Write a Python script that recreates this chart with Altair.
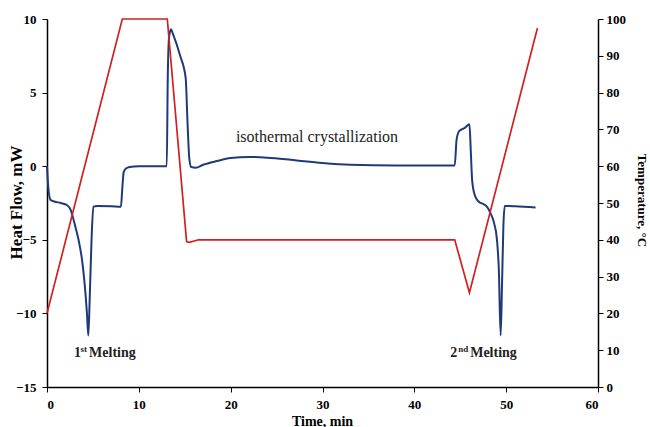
import altair as alt
import pandas as pd

# Heat flow curve (left axis)
hf_time = [0, 0.15, 0.4, 0.8, 1.5, 2.2, 2.6, 3.0, 3.4, 3.8, 4.1, 4.35, 4.5, 4.65, 4.85, 5.05,
           5.5, 7.0, 8.05, 8.2, 8.35, 8.6, 9.0, 10, 12, 13.04, 13.15, 13.3, 13.5, 13.7, 14.5,
           15.1, 15.3, 15.5, 15.7, 16.2, 17, 18.5, 20, 22, 24, 27, 30, 33, 38, 44.4, 44.6,
           44.9, 45.5, 46.0, 46.15, 46.3, 46.6, 47.0, 47.6, 47.9, 48.3, 48.7, 49.0, 49.2,
           49.4, 49.55, 49.7, 49.85, 51, 53.2]
hf_value = [0, -1.5, -2.3, -2.4, -2.5, -2.65, -3.0, -3.9, -4.9, -6.3, -8.0, -10.0, -11.5, -9.0,
            -5.0, -2.75, -2.7, -2.72, -2.75, -1.5, -0.4, -0.15, -0.05, 0, 0, 0, 6.0, 8.8, 9.3,
            9.0, 7.5, 6.0, 3.0, 0.5, -0.05, -0.1, 0.1, 0.35, 0.55, 0.63, 0.58, 0.4, 0.22, 0.1,
            0.05, 0.05, 1.8, 2.4, 2.6, 2.85, 1.0, -1.0, -2.0, -2.4, -2.6, -2.75, -3.2, -3.9,
            -5.0, -7.0, -11.5, -8.0, -4.0, -2.7, -2.72, -2.8]

# Temperature program (right axis)
temp_time = [0, 8.2, 13.1, 15.2, 15.5, 16.5, 44.4, 46.0, 53.4]
temp_value = [20, 100, 100, 39.5, 39.3, 40, 40, 25.6, 97.5]

# Annotations
note_text = ["isothermal crystallization"]
note_time = [29.4]
note_hf = [1.67]

melt_num = ["1", "2"]
melt_num_time = [3.70, 44.66]
melt_sup = ["st", "nd"]
melt_word = ["Melting", "Melting"]
melt_time = [4.58, 46.08]
melt_hf = [-12.97, -12.93]

FONT = "Liberation Serif"
BLUE = "#1f3a78"
RED = "#d0201f"

hf_df = pd.DataFrame({"t": hf_time, "hf": hf_value})
temp_df = pd.DataFrame({"t": temp_time, "temp": temp_value})
note_df = pd.DataFrame({"t": note_time, "hf": note_hf, "label": note_text})
melt_df = pd.DataFrame({"t": melt_time, "hf": melt_hf, "sup": melt_sup, "word": melt_word})
num_df = pd.DataFrame({"t": melt_num_time, "hf": melt_hf, "num": melt_num})

x_enc = alt.X("t:Q", scale=alt.Scale(domain=[0, 60], nice=False, zero=False),
              axis=alt.Axis(values=[0, 10, 20, 30, 40, 50, 60], title="Time, min",
                            titleFont=FONT, titleFontSize=14, titleFontWeight="bold",
                            titleX=275, titleY=34, titleBaseline="middle", titleAlign="center",
                            labelFont=FONT, labelFontSize=13, labelFontWeight="bold",
                            labelColor="black", labelPadding=6, tickSize=5,
                            domainColor="black", tickColor="black", domainWidth=1.5,
                            grid=False))

y_enc = alt.Y("hf:Q", scale=alt.Scale(domain=[-15, 10], nice=False, zero=False),
              axis=alt.Axis(values=[-15, -10, -5, 0, 5, 10], title="Heat Flow, mW",
                            titleFont=FONT, titleFontSize=17, titleFontWeight="bold",
                            titleAngle=270, titleX=-31, titleY=183, titleBaseline="middle",
                            titleAlign="center",
                            labelFont=FONT, labelFontSize=13, labelFontWeight="bold",
                            labelColor="black", labelPadding=6, tickSize=5,
                            domainColor="black", tickColor="black", domainWidth=1.5,
                            grid=False))

blue = alt.Chart(hf_df).mark_line(color=BLUE, strokeWidth=2, interpolate="monotone").encode(
    x=x_enc, y=y_enc)

note = alt.Chart(note_df).mark_text(font=FONT, fontSize=16, color="#222222",
                                    align="center", baseline="alphabetic").encode(
    x=x_enc, y=y_enc, text="label:N")

word = alt.Chart(melt_df).mark_text(font=FONT, fontSize=14, fontWeight="bold", color="#222222",
                                    align="left", baseline="alphabetic").encode(
    x=x_enc, y=y_enc, text="word:N")
sup = alt.Chart(melt_df).mark_text(font=FONT, fontSize=9, fontWeight="bold", color="#222222",
                                   align="right", baseline="alphabetic", dx=-2, dy=-5).encode(
    x=x_enc, y=y_enc, text="sup:N")
num = alt.Chart(num_df).mark_text(font=FONT, fontSize=14, fontWeight="bold", color="#222222",
                                  align="right", baseline="alphabetic").encode(
    x=x_enc, y=y_enc, text="num:N")

left = alt.layer(blue, note, word, sup, num)

red = alt.Chart(temp_df).mark_line(color=RED, strokeWidth=1.7).encode(
    x=x_enc,
    y=alt.Y("temp:Q", scale=alt.Scale(domain=[0, 100], nice=False, zero=False),
            axis=alt.Axis(orient="right", values=list(range(0, 101, 10)),
                          title="Temperature, °C",
                          titleFont=FONT, titleFontSize=13, titleFontWeight="bold",
                          titleAngle=90, titleX=43, titleY=181, titleBaseline="middle",
                          titleAlign="center",
                          labelFont=FONT, labelFontSize=13, labelFontWeight="bold",
                          labelColor="black", labelPadding=3, tickSize=5,
                          domainColor="black", tickColor="black", domainWidth=1.5,
                          grid=False)))

chart = alt.layer(left, red).resolve_scale(y="independent").properties(
    width=551, height=368,
    autosize=alt.AutoSizeParams(type="none"),
    padding={"left": 47, "top": 19, "right": 52, "bottom": 40},
    background="white",
).configure_view(stroke=None)

chart.save("out.html", embed_options={"renderer": "svg", "actions": False})
